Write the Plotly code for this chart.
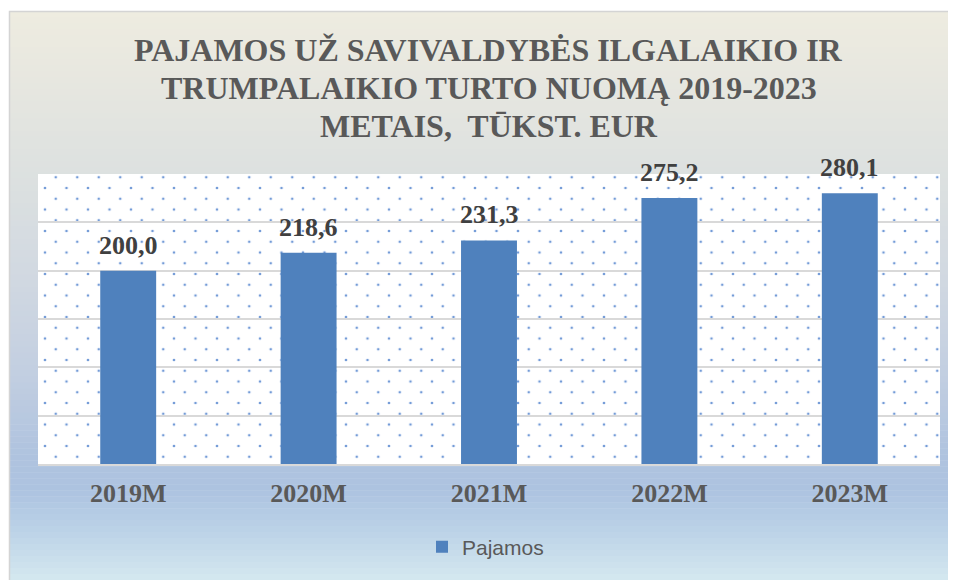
import plotly.graph_objects as go

# ---------------- data ----------------
categories = ["2019M", "2020M", "2021M", "2022M", "2023M"]
pajamos = [200.0, 218.6, 231.3, 275.2, 280.1]
series_name = "Pajamos"
title_lines = [
    "PAJAMOS UŽ SAVIVALDYBĖS ILGALAIKIO IR",
    "TRUMPALAIKIO TURTO NUOMĄ 2019-2023",
    "METAIS,\u00a0 TŪKST. EUR",
]
y_range = [0, 300]
y_step = 50

# ---------------- geometry / style ----------------
OFF = 8                     # page body margin of the html page
W, H = 956 - OFF, 580 - OFF
def px(x):                  # screen x -> paper fraction
    return (x - OFF) / W
def py(y):                  # screen y -> paper fraction
    return 1 - (y - OFF) / H

PL, PR, PT, PB = 38, 940, 174, 464      # plot area in screen pixels
S = 21.5                                  # dot pattern tile
oxA, oyA = 34.25, 155.75                  # pattern origin A
oxB, oyB = oxA + S / 2, oyA + S / 2       # pattern origin B (staggered)

BAR = "#4F81BD"
DOT = "#5B8AD0"
GRID = "#D9D9D9"
SERIF = "Liberation Serif, Times New Roman, serif"

def hexrgb(h):
    h = h.lstrip("#")
    return tuple(int(h[i:i + 2], 16) for i in (0, 2, 4))

grad_stops = [(11, "#EEECE0"), (80, "#E7E7E0"), (170, "#DDE1E0"), (270, "#D2D9E1"),
              (370, "#C3CFE1"), (455, "#AFC3DF"), (490, "#ADC3E0"), (530, "#BBD2E7"),
              (580, "#D5E8F0")]

def grad_color(y):
    for (y0, c0), (y1, c1) in zip(grad_stops[:-1], grad_stops[1:]):
        if y0 <= y <= y1:
            t = (y - y0) / (y1 - y0)
            a, b = hexrgb(c0), hexrgb(c1)
            return "rgb(%d,%d,%d)" % tuple(round(a[i] + (b[i] - a[i]) * t) for i in range(3))
    return grad_stops[-1][1]

fig = go.Figure()

# dot texture (two staggered pattern fills)
for ox, oy, xa, ya in [(oxA, oyA, "x", "y"), (oxB, oyB, "x2", "y2")]:
    fig.add_trace(go.Bar(
        x=[(PL + PR) / 2], y=[PB - PT], base=[PT], width=[PR - PL],
        xaxis=xa, yaxis=ya,
        marker=dict(color=DOT, line=dict(width=0),
                    pattern=dict(shape=".", size=S, solidity=0.012,
                                 fgcolor=DOT, bgcolor="rgba(0,0,0,0)", fgopacity=0.85)),
        showlegend=False, hoverinfo="skip",
    ))

# data bars
fig.add_trace(go.Bar(
    x=categories, y=pajamos, name=series_name, xaxis="x3", yaxis="y3",
    marker=dict(color=BAR, line=dict(width=0)),
    hovertemplate="%{x}: %{y}<extra></extra>",
))

shapes = []
# background gradient
n = 95
y0 = 11
step = (580 - y0) / n
for i in range(n):
    a = y0 + i * step
    b = a + step
    shapes.append(dict(type="rect", xref="paper", yref="paper", layer="below",
                       x0=px(9), x1=1, y0=max(py(b + 0.6), 0), y1=py(a),
                       fillcolor=grad_color((a + b) / 2), line=dict(width=0)))
# chart area border
shapes.append(dict(type="rect", xref="paper", yref="paper", layer="below",
                   x0=px(9.5), x1=1.01, y0=-0.01, y1=py(11.5),
                   fillcolor="rgba(0,0,0,0)", line=dict(color="#D4D4D4", width=1.5)))
# white plot area
shapes.append(dict(type="rect", xref="x", yref="y", layer="below",
                   x0=PL, x1=PR, y0=PT, y1=PB, fillcolor="white", line=dict(width=0)))

annotations = []
title_centers = [50, 88, 126]
for txt, yc in zip(title_lines, title_centers):
    annotations.append(dict(text=txt, xref="paper", yref="paper",
                            x=px(489), y=py(yc), xanchor="center", yanchor="middle",
                            showarrow=False,
                            font=dict(family=SERIF, size=32, color="#595959",
                                      weight="bold")))
for c, v in zip(categories, pajamos):
    annotations.append(dict(text=("%.1f" % v).replace(".", ","),
                            xref="x3", yref="y3", x=c, y=v, xanchor="center",
                            yanchor="bottom", yshift=9, showarrow=False,
                            font=dict(family=SERIF, size=26, color="#404040",
                                      weight="bold")))

hidden = dict(visible=False, fixedrange=True, autorange=False)
fig.update_layout(
    width=W, height=H,
    margin=dict(l=0, r=0, t=0, b=0),
    paper_bgcolor="white", plot_bgcolor="rgba(0,0,0,0)",
    barmode="overlay", bargap=0.69,
    shapes=shapes, annotations=annotations,
    xaxis=dict(domain=[px(oxA), px(PR)], range=[oxA, PR], anchor="y", **hidden),
    yaxis=dict(domain=[py(PB), py(oyA)], range=[PB, oyA], anchor="x", **hidden),
    xaxis2=dict(domain=[px(oxB), px(PR)], range=[oxB, PR], anchor="y2", **hidden),
    yaxis2=dict(domain=[py(PB), py(oyB)], range=[PB, oyB], anchor="x2", **hidden),
    xaxis3=dict(domain=[px(PL), px(PR)], anchor="y3", type="category",
                showline=True, linecolor=GRID, linewidth=2, ticks="",
                ticklabelstandoff=5, showgrid=False,
                tickfont=dict(family=SERIF, size=26, color="#595959", weight="bold")),
    yaxis3=dict(domain=[py(PB), py(PT)], anchor="x3", range=y_range, dtick=y_step,
                showgrid=True, gridcolor=GRID, gridwidth=1.5, showticklabels=False,
                zeroline=False, showline=False, ticks=""),
    legend=dict(orientation="h", x=px(422), xanchor="left", y=py(547), yanchor="middle",
                bgcolor="rgba(0,0,0,0)",
                font=dict(family="Liberation Sans", size=21, color="#595959")),
    showlegend=True,
)

fig.write_html("out.html")
